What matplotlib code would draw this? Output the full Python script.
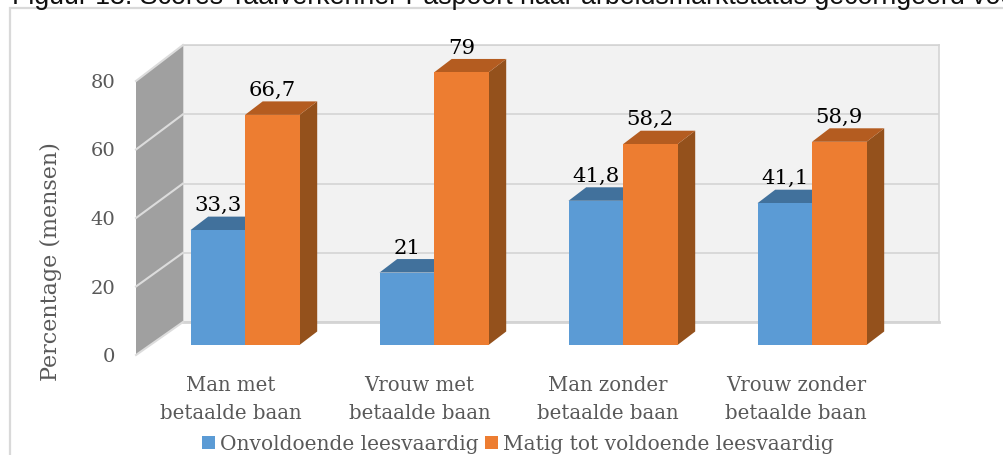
import matplotlib
matplotlib.use("Agg")
import matplotlib.pyplot as plt
from matplotlib.patches import Polygon, Rectangle
from matplotlib.transforms import Affine2D

categories = ["Man met\nbetaalde baan", "Vrouw met\nbetaalde baan",
              "Man zonder\nbetaalde baan", "Vrouw zonder\nbetaalde baan"]
onvoldoende = [33.3, 21, 41.8, 41.1]
matig = [66.7, 79, 58.2, 58.9]
series_names = ["Onvoldoende leesvaardig", "Matig tot voldoende leesvaardig"]
y_ticks = [0, 20, 40, 60, 80]
title = "Figuur 13. Scores Taalverkenner Paspoort naar arbeidsmarktstatus gecorrigeerd voo"
y_label = "Percentage (mensen)"

W, H = 1004, 455
SERIF = "DejaVu Serif"
fig = plt.figure(figsize=(W / 100, H / 100), dpi=100, facecolor="white")
px = Affine2D().scale(1, -1).translate(0, H)


def add_axes(x0, x1, ytop, ybot, **kw):
    return fig.add_axes([x0 / W, 1 - ybot / H, (x1 - x0) / W, (ybot - ytop) / H], **kw)


# outer chart frame (runs off the image)
fig.add_artist(Rectangle((10, 8), 1100, 500, transform=px, fc="white", ec="#d9d9d9", lw=1.6))

# back wall
back = add_axes(183, 939, 45, 322, zorder=1, facecolor="#f2f2f2")
back.set_xlim(0, 1)
back.set_ylim(0, 80)
back.set_yticks(y_ticks)
back.set_xticks([])
back.tick_params(left=False, labelleft=False)
back.grid(axis="y", color="#d9d9d9", lw=1.4)
back.set_axisbelow(True)
for s in back.spines.values():
    s.set_color("#d4d4d4")
    s.set_linewidth(1.2)
back.spines["bottom"].set_linewidth(2)

# front plane: carries the axis labels and the grey side wall
front = add_axes(136, 939, 81, 355, zorder=2, facecolor="none")
front.set_xlim((136 - 231) / 188.4, (939 - 231) / 188.4)
front.set_ylim(0, 80)
front.set_yticks(y_ticks)
front.set_xticks(range(len(categories)))
front.set_xticklabels(categories, fontfamily=SERIF, fontsize=14.2, color="#595959", linespacing=1.62)
front.tick_params(axis="y", length=0, labelsize=14, labelcolor="#595959", pad=15)
front.tick_params(axis="x", length=0, pad=15)
for lab in front.get_yticklabels():
    lab.set_fontfamily(SERIF)
for s in front.spines.values():
    s.set_visible(False)
front.set_ylabel(y_label, fontfamily=SERIF, fontsize=16, color="#595959")
front.yaxis.set_label_coords((62 - 136) / 803, (355 - 262) / 274)

wall_scale_f, wall_scale_b = 274 / 80, 277 / 80
wall = [(136, 355), (183, 322), (183, 45), (136, 81)]
front.add_patch(Polygon(wall, closed=True, transform=px, fc="#a0a0a0", ec="none", clip_on=False))
for v in y_ticks:
    front.plot([136, 183], [355 - v * wall_scale_f, 322 - v * wall_scale_b], transform=px,
               color="#dcdcdc", lw=1.5, clip_on=False)

# bars: value axes scaled on the bar front faces
ax = add_axes(0, W, 0, H, zorder=3, facecolor="none")
ax.set_xlim((0 - 245) / 189, (W - 245) / 189)
ax.set_ylim((345 - H) / 3.45, 345 / 3.45)
ax.axis("off")

bw = 54.5 / 189
ddx, ddy = 17.7 / 189, 13.5 / 3.45
styles = [("#5b9bd5", "#41719c", "#376092"), ("#ed7d31", "#b45c20", "#94511c")]


def bar3d(x0, v, face, top, side, z):
    ax.add_patch(Polygon([(x0 + bw, 0), (x0 + bw + ddx, ddy), (x0 + bw + ddx, v + ddy), (x0 + bw, v)],
                         fc=side, ec="none", zorder=z))
    ax.add_patch(Polygon([(x0, v), (x0 + ddx, v + ddy), (x0 + bw + ddx, v + ddy), (x0 + bw, v)],
                         fc=top, ec="none", zorder=z))
    ax.bar(x0, v, width=bw, align="edge", color=face, zorder=z + 0.1)


for i in range(len(categories)):
    bar3d(i - bw, onvoldoende[i], *styles[0], z=3)
    bar3d(i, matig[i], *styles[1], z=4)

for i in range(len(categories)):
    for x0, v in ((i - bw, onvoldoende[i]), (i, matig[i])):
        ax.annotate(str(v).replace(".", ","), (x0 + bw / 2, v), xytext=(0, 17.5), textcoords="offset points",
                    ha="center", va="center", fontfamily=SERIF, fontsize=15.3, color="black", zorder=6)

# legend
handles = [Rectangle((0, 0), 1, 1, fc=styles[0][0]), Rectangle((0, 0), 1, 1, fc=styles[1][0])]
fig.legend(handles, series_names, ncol=2, frameon=False, loc="center", bbox_to_anchor=(518 / W, 1 - 444 / H),
           prop={"family": SERIF, "size": 14.5}, labelcolor="#595959", handlelength=0.65, handleheight=0.65,
           handletextpad=0.25, columnspacing=0.3, borderpad=0, borderaxespad=0)

fig.text(12 / W, 1 - 4 / H, title, family="Liberation Sans", fontsize=19.3, color="#111111", ha="left", va="baseline")

fig.savefig("out.png", dpi=100)
